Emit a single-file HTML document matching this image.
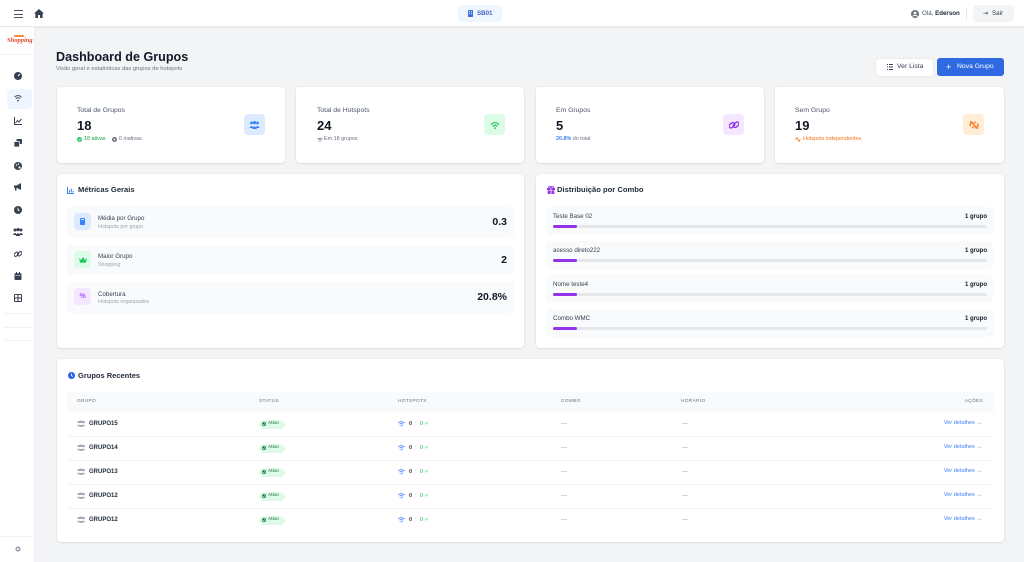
<!DOCTYPE html>
<html><head><meta charset="utf-8">
<style>
*{margin:0;padding:0;box-sizing:border-box}
html,body{width:1024px;height:562px;overflow:hidden;background:#f3f4f6;font-family:"Liberation Sans",sans-serif;color:#111827}
.a{position:absolute}
.card{position:absolute;background:#fff;border-radius:4px;box-shadow:0 1px 2px rgba(0,0,0,.07),0 0 0 1px rgba(0,0,0,.025)}
.t{position:absolute;white-space:nowrap;line-height:1}
.lbl{font-size:6.8px;color:#4b5563}
.num{font-size:13px;font-weight:bold;color:#111827}
.ib{position:absolute;width:21px;height:21px;border-radius:4px;display:flex;align-items:center;justify-content:center}
.row{position:absolute;background:#f9fafb;border-radius:4px}
.th{position:absolute;font-size:4.8px;color:#6b7280;letter-spacing:.3px;line-height:1;top:399.6px}
.hl{position:absolute;left:67px;width:927px;height:1px;background:#f1f2f4}
.nm{font-size:6px;font-weight:bold;color:#1f2937}
.badge{position:absolute;left:259px;width:26px;height:9px;border-radius:5px;background:#dcfce7}
.dash{font-size:6px;color:#9ca3af}
.vd{font-size:5.6px;color:#3b82f6}
.sbi{position:absolute;left:14px;width:8px;height:8px}
</style></head><body>

<!-- header -->
<div class="a" style="left:0;top:0;width:1024px;height:27px;background:#fff;border-bottom:1px solid #e5e7eb;box-shadow:0 1px 2px rgba(0,0,0,.05)"></div>
<div class="a" style="left:14px;top:10px;width:9px;height:1.2px;background:#4b5563"></div>
<div class="a" style="left:14px;top:13.5px;width:9px;height:1.2px;background:#4b5563"></div>
<div class="a" style="left:14px;top:17px;width:9px;height:1.2px;background:#4b5563"></div>
<svg class="a" style="left:34px;top:9px" width="10" height="9" viewBox="0 0 10 9"><path d="M5 0 L10 4.5 L8.6 4.5 L8.6 9 L6 9 L6 6 L4 6 L4 9 L1.4 9 L1.4 4.5 L0 4.5 Z" fill="#374151"/></svg>

<div class="a" style="left:458px;top:5px;width:44px;height:17px;background:#eff6ff;border-radius:4px"></div>
<svg class="a" style="left:468px;top:10px" width="5" height="7" viewBox="0 0 5 7"><rect x="0" y="0" width="5" height="7" rx=".6" fill="#3b6fe0"/><rect x="1" y="1.2" width="1" height="1" fill="#eff6ff"/><rect x="3" y="1.2" width="1" height="1" fill="#eff6ff"/><rect x="1" y="3.2" width="1" height="1" fill="#eff6ff"/><rect x="3" y="3.2" width="1" height="1" fill="#eff6ff"/></svg>
<div class="t" style="left:477px;top:10.5px;font-size:6.2px;font-weight:bold;color:#4a63c9">SB01</div>

<svg class="a" style="left:911px;top:9.5px" width="8" height="8" viewBox="0 0 8 8"><circle cx="4" cy="4" r="4" fill="#6b7280"/><circle cx="4" cy="3" r="1.4" fill="#fff"/><path d="M1.6 6.4 Q4 4.4 6.4 6.4" stroke="#fff" stroke-width="1" fill="none"/></svg>
<div class="t" style="left:922px;top:10.8px;font-size:6.2px;color:#4b5563">Olá, <b style="color:#1f2937">Ederson</b></div>
<div class="a" style="left:966px;top:8px;width:1px;height:12px;background:#e5e7eb"></div>
<div class="a" style="left:973px;top:5px;width:41px;height:17px;background:#f3f4f6;border-radius:4px"></div>
<div class="t" style="left:983px;top:10.6px;font-size:6.2px;color:#374151">⇥</div>
<div class="t" style="left:992px;top:10.8px;font-size:6.2px;color:#374151">Sair</div>

<!-- sidebar -->
<div class="a" style="left:0;top:27px;width:35px;height:535px;background:#fff;border-right:1px solid #eceef1"></div>
<div class="t" style="left:7px;top:38px;font-size:6.5px;font-style:italic;font-family:'Liberation Serif',serif;color:#e0452b;font-weight:bold">Shopping</div>
<div class="a" style="left:14px;top:35px;width:10px;height:2px;background:#f28b3c;border-radius:1px"></div>
<div class="a" style="left:0;top:54px;width:35px;height:1px;background:#f1f2f4"></div>

<svg class="sbi" style="top:72px" viewBox="0 0 8 8"><circle cx="4" cy="4" r="4" fill="#374151"/><path d="M4 4 L6 2" stroke="#fff" stroke-width="1"/></svg>
<div class="a" style="left:7px;top:89px;width:25px;height:20px;background:#eff6ff;border-radius:4px"></div>
<svg class="sbi" style="top:94px" viewBox="0 0 8 8"><path d="M0.5 3 Q4 0 7.5 3" stroke="#4b5563" stroke-width="1" fill="none"/><path d="M1.8 4.6 Q4 2.8 6.2 4.6" stroke="#4b5563" stroke-width="1" fill="none"/><circle cx="4" cy="6.6" r=".9" fill="#4b5563"/></svg>
<svg class="sbi" style="top:117px" viewBox="0 0 8 8"><path d="M.5 0 V7.5 H8" stroke="#374151" stroke-width="1" fill="none"/><path d="M1.5 6 L3.5 3.5 L5 5 L7.5 2" stroke="#374151" stroke-width="1" fill="none"/></svg>
<svg class="sbi" style="top:139px" viewBox="0 0 8 8"><rect x="2.5" y="0" width="5.5" height="5" rx=".6" fill="#374151"/><rect x="0" y="2.5" width="5.5" height="5.5" rx=".6" fill="#374151" stroke="#fff" stroke-width=".7"/></svg>
<svg class="sbi" style="top:162px" viewBox="0 0 8 8"><circle cx="4" cy="4" r="4" fill="#374151"/><circle cx="2.5" cy="3" r=".8" fill="#fff"/><circle cx="4.5" cy="2" r=".7" fill="#fff"/><circle cx="5.5" cy="5.5" r="1.1" fill="#fff"/></svg>
<svg class="sbi" style="top:183px" viewBox="0 0 8 8"><path d="M0 2.5 H2.5 L7 0 V7 L2.5 4.8 H0 Z" fill="#374151"/><rect x="1" y="4.5" width="1.5" height="3" fill="#374151"/></svg>
<svg class="sbi" style="top:206px" viewBox="0 0 8 8"><circle cx="4" cy="4" r="4" fill="#374151"/><path d="M4 1.8 V4 L5.5 5" stroke="#fff" stroke-width=".9" fill="none"/></svg>
<svg class="a" style="left:13px;top:228px" width="10" height="8" viewBox="0 0 10 8"><circle cx="2" cy="2" r="1.5" fill="#374151"/><circle cx="5" cy="1.6" r="1.6" fill="#374151"/><circle cx="8" cy="2" r="1.5" fill="#374151"/><path d="M0 7 Q2 3 4 7Z M2.6 8 Q5 2.5 7.4 8Z M6 7 Q8 3 10 7Z" fill="#374151"/></svg>
<svg class="sbi" style="top:250px" viewBox="0 0 8 8"><rect x="-.2" y="2.7" width="5" height="3" rx="1.5" transform="rotate(-40 2.3 4.2)" stroke="#374151" stroke-width="1" fill="none"/><rect x="3.2" y="2.3" width="5" height="3" rx="1.5" transform="rotate(-40 5.7 3.8)" stroke="#374151" stroke-width="1" fill="none"/></svg>
<svg class="sbi" style="top:272px" viewBox="0 0 8 8"><rect x=".5" y="1.2" width="7" height="6.8" rx=".8" fill="#374151"/><rect x="2" y="0" width="1" height="2" fill="#374151"/><rect x="5" y="0" width="1" height="2" fill="#374151"/><rect x="1.3" y="3.4" width="5.4" height=".5" fill="#fff"/></svg>
<svg class="sbi" style="top:294px" viewBox="0 0 8 8"><rect x=".5" y=".5" width="7" height="7" rx=".8" stroke="#374151" stroke-width="1" fill="none"/><path d="M.5 4 H7.5 M4 .5 V7.5" stroke="#374151" stroke-width="1"/></svg>
<div class="a" style="left:4px;top:313px;width:28px;height:1px;background:#f1f2f4"></div>
<div class="a" style="left:4px;top:327px;width:28px;height:1px;background:#f1f2f4"></div>
<div class="a" style="left:4px;top:340px;width:28px;height:1px;background:#f1f2f4"></div>
<div class="a" style="left:0;top:536px;width:35px;height:1px;background:#f1f2f4"></div>
<svg class="a" style="left:15px;top:546px" width="6" height="6" viewBox="0 0 6 6"><circle cx="3" cy="3" r="2.6" fill="#9ca3af"/><circle cx="3" cy="3" r="1" fill="#fff"/></svg>

<!-- title -->
<div class="t" style="left:56px;top:51px;font-size:12.6px;font-weight:bold;color:#111827">Dashboard de Grupos</div>
<div class="t" style="left:56px;top:67.2px;font-size:5.8px;color:#6b7280">Visão geral e estatísticas das grupos de hotspots</div>

<div class="a" style="left:876px;top:59px;width:57px;height:17px;background:#fff;border-radius:3px;box-shadow:0 0 0 1px rgba(0,0,0,.03)"></div>
<svg class="a" style="left:887px;top:64px" width="6" height="6" viewBox="0 0 6 6"><rect x="0" y="0" width="1" height="1" fill="#374151"/><rect x="0" y="2.5" width="1" height="1" fill="#374151"/><rect x="0" y="5" width="1" height="1" fill="#374151"/><rect x="2" y="0" width="4" height="1" fill="#374151"/><rect x="2" y="2.5" width="4" height="1" fill="#374151"/><rect x="2" y="5" width="4" height="1" fill="#374151"/></svg>
<div class="t" style="left:897px;top:64.2px;font-size:6.8px;color:#374151">Ver Lista</div>
<div class="a" style="left:937px;top:58px;width:67px;height:18px;background:#2f6ae3;border-radius:3px"></div>
<div class="t" style="left:946px;top:62.5px;font-size:9px;color:#fff">+</div>
<div class="t" style="left:957px;top:64px;font-size:6.8px;color:#fff">Nova Grupo</div>

<!-- stat cards -->
<div class="card" style="left:57px;top:87px;width:228px;height:76px"></div>
<div class="card" style="left:296px;top:87px;width:228px;height:76px"></div>
<div class="card" style="left:536px;top:87px;width:228px;height:76px"></div>
<div class="card" style="left:775px;top:87px;width:229px;height:76px"></div>

<div class="t lbl" style="left:77px;top:107.8px">Total de Grupos</div>
<div class="t num" style="left:77px;top:118.8px">18</div>
<svg class="a" style="left:77px;top:137px" width="5" height="5" viewBox="0 0 5 5"><circle cx="2.5" cy="2.5" r="2.5" fill="#22c55e"/><path d="M1.3 2.6 L2.2 3.4 L3.8 1.7" stroke="#fff" stroke-width=".7" fill="none"/></svg>
<div class="t" style="left:84px;top:137.4px;font-size:5.4px;color:#16a34a">18 ativas</div>
<svg class="a" style="left:112px;top:137px" width="5" height="5" viewBox="0 0 5 5"><circle cx="2.5" cy="2.5" r="2.5" fill="#6b7280"/><circle cx="2.5" cy="2.5" r=".9" fill="#fff"/></svg>
<div class="t" style="left:119px;top:137.4px;font-size:5.4px;color:#6b7280">0 inativas</div>
<div class="ib" style="left:244px;top:114px;background:#dbeafe"><svg width="11" height="8" viewBox="0 0 10 8"><circle cx="2" cy="2" r="1.4" fill="#3b82f6"/><circle cx="5" cy="1.6" r="1.6" fill="#3b82f6"/><circle cx="8" cy="2" r="1.4" fill="#3b82f6"/><path d="M0 7 Q2 3 4 7Z M2.6 8 Q5 2.5 7.4 8Z M6 7 Q8 3 10 7Z" fill="#3b82f6"/></svg></div>

<div class="t lbl" style="left:317px;top:107.8px">Total de Hotspots</div>
<div class="t num" style="left:317px;top:118.8px">24</div>
<svg class="a" style="left:317px;top:137px" width="6" height="5" viewBox="0 0 8 7"><path d="M0.5 3 Q4 0 7.5 3" stroke="#6b7280" stroke-width="1" fill="none"/><path d="M1.8 4.6 Q4 2.8 6.2 4.6" stroke="#6b7280" stroke-width="1" fill="none"/><circle cx="4" cy="6.2" r=".8" fill="#6b7280"/></svg>
<div class="t" style="left:324px;top:137.4px;font-size:5.4px;color:#6b7280">Em 18 grupos</div>
<div class="ib" style="left:484px;top:114px;background:#dcfce7"><svg width="10" height="8" viewBox="0 0 8 7"><path d="M0.5 3 Q4 0 7.5 3" stroke="#22c55e" stroke-width="1" fill="none"/><path d="M1.8 4.6 Q4 2.8 6.2 4.6" stroke="#22c55e" stroke-width="1" fill="none"/><circle cx="4" cy="6.2" r=".8" fill="#22c55e"/></svg></div>

<div class="t lbl" style="left:556px;top:107.8px">Em Grupos</div>
<div class="t num" style="left:556px;top:118.8px">5</div>
<div class="t" style="left:556px;top:137.4px;font-size:5.4px;color:#6b7280"><b style="color:#3b82f6">20.8%</b> do total</div>
<div class="ib" style="left:723px;top:114px;background:#f3e8ff"><svg width="10" height="10" viewBox="0 0 8 8"><rect x="-.2" y="2.7" width="5" height="3" rx="1.5" transform="rotate(-40 2.3 4.2)" stroke="#9333ea" stroke-width="1.1" fill="none"/><rect x="3.2" y="2.3" width="5" height="3" rx="1.5" transform="rotate(-40 5.7 3.8)" stroke="#9333ea" stroke-width="1.1" fill="none"/></svg></div>

<div class="t lbl" style="left:795px;top:107.8px">Sem Grupo</div>
<div class="t num" style="left:795px;top:118.8px">19</div>
<svg class="a" style="left:795px;top:137px" width="6" height="5" viewBox="0 0 8 7"><path d="M1 1 L7 6 M1 4 Q1 1 4 1 M7 3 Q7 6 4 6" stroke="#f97316" stroke-width="1" fill="none"/></svg>
<div class="t" style="left:803px;top:137.4px;font-size:5.4px;color:#f97316">Hotspots independentes</div>
<div class="ib" style="left:963px;top:114px;background:#ffedd5"><svg width="10" height="10" viewBox="0 0 8 8"><path d="M1 1 L7 7" stroke="#f97316" stroke-width="1"/><path d="M1.5 5 Q0 3.5 1.5 2.5 L3 1.5 M6.5 3 Q8 4.5 6.5 5.5 L5 6.5 M2.5 6.5 L4 5.3 M4 2.7 L5.5 1.5" stroke="#f97316" stroke-width="1" fill="none"/></svg></div>

<!-- Métricas Gerais -->
<div class="card" style="left:57px;top:174px;width:467px;height:174px"></div>
<svg class="a" style="left:67px;top:186.5px" width="7" height="7" viewBox="0 0 7 7"><path d="M.5 0 V6.5 H7" stroke="#3b82f6" stroke-width="1" fill="none"/><rect x="2" y="3" width="1" height="2.5" fill="#3b82f6"/><rect x="3.8" y="1.5" width="1" height="4" fill="#3b82f6"/><rect x="5.6" y="3.8" width="1" height="1.7" fill="#3b82f6"/></svg>
<div class="t" style="left:78px;top:186.4px;font-size:7.6px;font-weight:bold;color:#1f2937">Métricas Gerais</div>

<div class="row" style="left:67px;top:207px;width:447px;height:30px"></div>
<div class="a" style="left:74px;top:213px;width:17px;height:17px;border-radius:4px;background:#dbeafe"></div>
<div class="a" style="left:80px;top:217.5px;width:4.5px;height:7px;border-radius:.8px;background:#3b82f6"></div>
<div class="a" style="left:81px;top:218.5px;width:2.5px;height:1.2px;background:#dbeafe"></div>
<div class="t" style="left:98px;top:216.1px;font-size:6.2px;color:#374151">Média por Grupo</div>
<div class="t" style="left:98px;top:224.5px;font-size:5.3px;color:#9ca3af">Hotspots por grupo</div>
<div class="t" style="right:517px;top:216.8px;font-size:10.5px;font-weight:bold;color:#111827">0.3</div>

<div class="row" style="left:67px;top:245px;width:447px;height:30px"></div>
<div class="a" style="left:74px;top:251px;width:17px;height:17px;border-radius:4px;background:#dcfce7"></div>
<svg class="a" style="left:78.5px;top:257px" width="8" height="6" viewBox="0 0 8 6"><path d="M0 1 L2 3 L4 0 L6 3 L8 1 L7 5 H1 Z" fill="#22c55e"/><rect x="1" y="5.3" width="6" height=".7" fill="#22c55e"/></svg>
<div class="t" style="left:98px;top:254.1px;font-size:6.2px;color:#374151">Maior Grupo</div>
<div class="t" style="left:98px;top:262.5px;font-size:5.3px;color:#9ca3af">Shopping</div>
<div class="t" style="right:517px;top:254.8px;font-size:10.5px;font-weight:bold;color:#111827">2</div>

<div class="row" style="left:67px;top:282px;width:447px;height:31px"></div>
<div class="a" style="left:74px;top:288px;width:17px;height:17px;border-radius:4px;background:#f3e8ff"></div>
<div class="t" style="left:79.5px;top:293px;font-size:7px;font-weight:bold;color:#a855f7">%</div>
<div class="t" style="left:98px;top:291.6px;font-size:6.2px;color:#374151">Cobertura</div>
<div class="t" style="left:98px;top:300px;font-size:5.3px;color:#9ca3af">Hotspots organizados</div>
<div class="t" style="right:517px;top:292.2px;font-size:10.5px;font-weight:bold;color:#111827">20.8%</div>

<!-- Distribuição -->
<div class="card" style="left:536px;top:174px;width:468px;height:174px"></div>
<svg class="a" style="left:547px;top:186px" width="8" height="8" viewBox="0 0 8 8"><rect x="0" y="2" width="8" height="2" fill="#9333ea"/><rect x=".7" y="4.4" width="6.6" height="3.6" fill="#9333ea"/><rect x="3.6" y="2" width=".8" height="6" fill="#fff"/><circle cx="2.6" cy="1.2" r="1" stroke="#9333ea" stroke-width=".8" fill="none"/><circle cx="5.4" cy="1.2" r="1" stroke="#9333ea" stroke-width=".8" fill="none"/></svg>
<div class="t" style="left:557px;top:186.4px;font-size:7.6px;font-weight:bold;color:#1f2937">Distribuição por Combo</div>

<div class="row" style="left:546px;top:207px;width:447px;height:28px"></div>
<div class="t" style="left:553px;top:214.2px;font-size:6.2px;color:#374151">Teste Base 02</div>
<div class="t" style="right:37px;top:214.2px;font-size:6px;font-weight:bold;color:#111827">1 grupo</div>
<div class="a" style="left:553px;top:225px;width:434px;height:3px;border-radius:2px;background:#e5e7eb"></div>
<div class="a" style="left:553px;top:225px;width:24px;height:3px;border-radius:2px;background:#9333ea"></div>

<div class="row" style="left:546px;top:241px;width:447px;height:28px"></div>
<div class="t" style="left:553px;top:248.2px;font-size:6.2px;color:#374151">acesso direto222</div>
<div class="t" style="right:37px;top:248.2px;font-size:6px;font-weight:bold;color:#111827">1 grupo</div>
<div class="a" style="left:553px;top:259px;width:434px;height:3px;border-radius:2px;background:#e5e7eb"></div>
<div class="a" style="left:553px;top:259px;width:24px;height:3px;border-radius:2px;background:#9333ea"></div>

<div class="row" style="left:546px;top:275px;width:447px;height:28px"></div>
<div class="t" style="left:553px;top:282.2px;font-size:6.2px;color:#374151">Nome teste4</div>
<div class="t" style="right:37px;top:282.2px;font-size:6px;font-weight:bold;color:#111827">1 grupo</div>
<div class="a" style="left:553px;top:293px;width:434px;height:3px;border-radius:2px;background:#e5e7eb"></div>
<div class="a" style="left:553px;top:293px;width:24px;height:3px;border-radius:2px;background:#9333ea"></div>

<div class="row" style="left:546px;top:309px;width:447px;height:28px"></div>
<div class="t" style="left:553px;top:316.2px;font-size:6.2px;color:#374151">Combo WMC</div>
<div class="t" style="right:37px;top:316.2px;font-size:6px;font-weight:bold;color:#111827">1 grupo</div>
<div class="a" style="left:553px;top:327px;width:434px;height:3px;border-radius:2px;background:#e5e7eb"></div>
<div class="a" style="left:553px;top:327px;width:24px;height:3px;border-radius:2px;background:#9333ea"></div>

<!-- Grupos Recentes -->
<div class="card" style="left:57px;top:359px;width:947px;height:183px"></div>
<svg class="a" style="left:67.5px;top:371.5px" width="7" height="7" viewBox="0 0 7 7"><circle cx="3.5" cy="3.5" r="3.5" fill="#2563eb"/><path d="M3.5 1.5 V3.6 L4.8 4.6" stroke="#fff" stroke-width=".8" fill="none"/></svg>
<div class="t" style="left:78px;top:371.5px;font-size:7.5px;font-weight:bold;color:#1f2937">Grupos Recentes</div>

<div class="a" style="left:67px;top:392px;width:927px;height:20px;background:#f9fafb"></div>
<div class="th" style="left:77px">GRUPO</div>
<div class="th" style="left:259px">STATUS</div>
<div class="th" style="left:398px">HOTSPOTS</div>
<div class="th" style="left:561px">COMBO</div>
<div class="th" style="left:681px">HORÁRIO</div>
<div class="th" style="right:41px">AÇÕES</div>

<div class="hl" style="top:436px"></div>
<div class="hl" style="top:460px"></div>
<div class="hl" style="top:484px"></div>
<div class="hl" style="top:508px"></div>

<svg class="a" style="left:0;top:0" width="1024" height="562" viewBox="0 0 1024 562">
<defs>
<g id="ug"><circle cx="1.8" cy="1.6" r="1.2" fill="#9ca3af"/><circle cx="4.2" cy="1.3" r="1.3" fill="#9ca3af"/><circle cx="6.6" cy="1.6" r="1.2" fill="#9ca3af"/><path d="M0 5.6 Q1.8 2.6 3.4 5.6Z M2.2 6.4 Q4.2 2.2 6.2 6.4Z M5 5.6 Q6.6 2.6 8.4 5.6Z" fill="#9ca3af"/></g>
<g id="wf"><path d="M0.4 2.4 Q3.5 0 6.6 2.4" stroke="#3b82f6" stroke-width=".9" fill="none"/><path d="M1.6 3.8 Q3.5 2.3 5.4 3.8" stroke="#3b82f6" stroke-width=".9" fill="none"/><circle cx="3.5" cy="5.2" r=".75" fill="#3b82f6"/></g>
</defs>
<use href="#ug" x="77" y="420.5"/><use href="#ug" x="77" y="444.5"/><use href="#ug" x="77" y="468.5"/><use href="#ug" x="77" y="492.5"/><use href="#ug" x="77" y="516.5"/>
<use href="#wf" x="398" y="420.5"/><use href="#wf" x="398" y="444.5"/><use href="#wf" x="398" y="468.5"/><use href="#wf" x="398" y="492.5"/><use href="#wf" x="398" y="516.5"/>
</svg>

<div class="badge" style="top:419.5px"></div><div class="badge" style="top:443.5px"></div><div class="badge" style="top:467.5px"></div><div class="badge" style="top:491.5px"></div><div class="badge" style="top:515.5px"></div>
<svg class="a" style="left:0;top:0" width="1024" height="562" viewBox="0 0 1024 562">
<defs><g id="ck2"><circle cx="2" cy="2" r="2" fill="#2f7d46"/><path d="M1 2.1 L1.7 2.8 L3 1.4" stroke="#fff" stroke-width=".6" fill="none"/></g></defs>
<use href="#ck2" x="262" y="422"/><use href="#ck2" x="262" y="446"/><use href="#ck2" x="262" y="470"/><use href="#ck2" x="262" y="494"/><use href="#ck2" x="262" y="518"/>
</svg>

<div class="t nm" style="left:89px;top:421.2px">GRUPO15</div>
<div class="t nm" style="left:89px;top:445.2px">GRUPO14</div>
<div class="t nm" style="left:89px;top:469.2px">GRUPO13</div>
<div class="t nm" style="left:89px;top:493.2px">GRUPO12</div>
<div class="t nm" style="left:89px;top:517.2px">GRUPO12</div>

<div class="t" style="left:268px;top:422.2px;font-size:4.9px;line-height:4.9px;color:#166534">Ativo</div>
<div class="t" style="left:268px;top:446.2px;font-size:4.9px;line-height:4.9px;color:#166534">Ativo</div>
<div class="t" style="left:268px;top:470.2px;font-size:4.9px;line-height:4.9px;color:#166534">Ativo</div>
<div class="t" style="left:268px;top:494.2px;font-size:4.9px;line-height:4.9px;color:#166534">Ativo</div>
<div class="t" style="left:268px;top:518.2px;font-size:4.9px;line-height:4.9px;color:#166534">Ativo</div>

<div class="t" style="left:409px;top:421.6px;font-size:5.6px;color:#374151"><b>0</b> <span style="color:#d1d5db">&nbsp;|&nbsp;</span> <span style="color:#22c55e">0 ✓</span></div>
<div class="t" style="left:409px;top:445.6px;font-size:5.6px;color:#374151"><b>0</b> <span style="color:#d1d5db">&nbsp;|&nbsp;</span> <span style="color:#22c55e">0 ✓</span></div>
<div class="t" style="left:409px;top:469.6px;font-size:5.6px;color:#374151"><b>0</b> <span style="color:#d1d5db">&nbsp;|&nbsp;</span> <span style="color:#22c55e">0 ✓</span></div>
<div class="t" style="left:409px;top:493.6px;font-size:5.6px;color:#374151"><b>0</b> <span style="color:#d1d5db">&nbsp;|&nbsp;</span> <span style="color:#22c55e">0 ✓</span></div>
<div class="t" style="left:409px;top:517.6px;font-size:5.6px;color:#374151"><b>0</b> <span style="color:#d1d5db">&nbsp;|&nbsp;</span> <span style="color:#22c55e">0 ✓</span></div>

<div class="t dash" style="left:561px;top:421px">—</div><div class="t dash" style="left:682px;top:421px">—</div>
<div class="t dash" style="left:561px;top:445px">—</div><div class="t dash" style="left:682px;top:445px">—</div>
<div class="t dash" style="left:561px;top:469px">—</div><div class="t dash" style="left:682px;top:469px">—</div>
<div class="t dash" style="left:561px;top:493px">—</div><div class="t dash" style="left:682px;top:493px">—</div>
<div class="t dash" style="left:561px;top:517px">—</div><div class="t dash" style="left:682px;top:517px">—</div>

<div class="t vd" style="right:42px;top:421.4px">Ver detalhes →</div>
<div class="t vd" style="right:42px;top:445.4px">Ver detalhes →</div>
<div class="t vd" style="right:42px;top:469.4px">Ver detalhes →</div>
<div class="t vd" style="right:42px;top:493.4px">Ver detalhes →</div>
<div class="t vd" style="right:42px;top:517.4px">Ver detalhes →</div>

</body></html>
